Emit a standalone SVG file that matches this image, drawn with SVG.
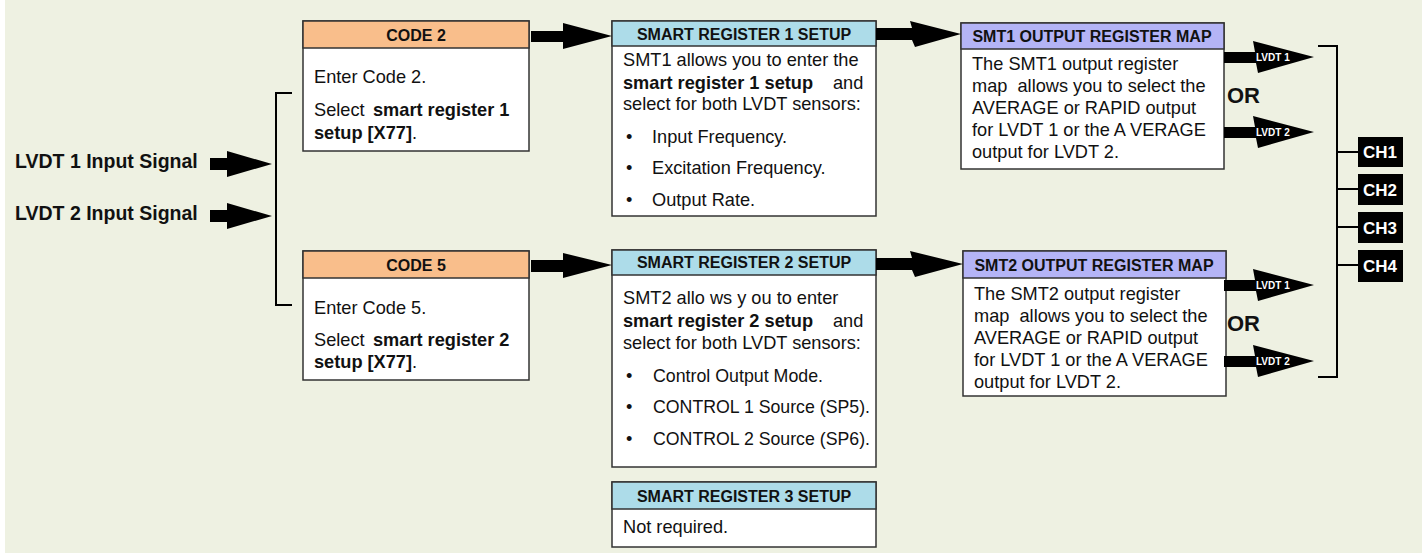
<svg xmlns="http://www.w3.org/2000/svg" width="1428" height="558" viewBox="0 0 1428 558">
<style>
  text { font-family: "Liberation Sans", Arial, sans-serif; fill: #111; }
  .hd { font-size: 16px; font-weight: bold; text-anchor: middle; }
  .bd { font-size: 18.2px; }
  .b { font-weight: bold; }
  .sig { font-size: 19.5px; font-weight: bold; }
  .or { font-size: 22px; font-weight: bold; }
  .ch { font-size: 17px; font-weight: bold; fill: #fff; text-anchor: middle; }
  .lv { font-size: 10px; font-weight: bold; fill: #fff; }
  .box { fill: #fff; stroke: #333; stroke-width: 1.5; }
  .orange { fill: #F9BE8B; stroke: #333; stroke-width: 1.5; }
  .blue { fill: #ADDCE9; stroke: #333; stroke-width: 1.5; }
  .purple { fill: #B4B4F6; stroke: #333; stroke-width: 1.5; }
  .arrow { fill: #000; }
  .line { fill: none; stroke: #000; stroke-width: 2; }
</style>
<rect x="5" y="0" width="1417" height="553" fill="#EEF1E2"/>

<g id="inputs">
  <text class="sig" x="15" y="168">LVDT 1 Input Signal</text>
  <text class="sig" x="15" y="220">LVDT 2 Input Signal</text>
</g>

<g id="code2">
  <rect class="box" x="303" y="21" width="226" height="130"/>
  <rect class="orange" x="303" y="21" width="226" height="27"/>
  <text class="hd" x="416" y="41">CODE 2</text>
  <text class="bd" x="314" y="83">Enter Code 2.</text>
  <text class="bd" x="314" y="116">Select <tspan class="b" x="373">smart register 1</tspan></text>
  <text class="bd" x="314" y="139"><tspan class="b">setup [X77]</tspan>.</text>
</g>

<g id="code5">
  <rect class="box" x="303" y="251" width="226" height="129"/>
  <rect class="orange" x="303" y="251" width="226" height="27"/>
  <text class="hd" x="416" y="271">CODE 5</text>
  <text class="bd" x="314" y="314">Enter Code 5.</text>
  <text class="bd" x="314" y="346">Select <tspan class="b" x="373">smart register 2</tspan></text>
  <text class="bd" x="314" y="368"><tspan class="b">setup [X77]</tspan>.</text>
</g>

<g id="sr1">
  <rect class="box" x="612" y="21" width="264" height="195"/>
  <rect class="blue" x="612" y="21" width="264" height="25"/>
  <text class="hd" x="744" y="40">SMART REGISTER 1 SETUP</text>
  <text class="bd" x="623" y="66">SMT1 allows you to enter the</text>
  <text class="bd" x="623" y="89"><tspan class="b">smart register 1 setup</tspan><tspan x="833">and</tspan></text>
  <text class="bd" x="623" y="110">select for both LVDT sensors:</text>
  <text class="bd" x="626" y="143">•<tspan x="652">Input Frequency.</tspan></text>
  <text class="bd" x="626" y="174">•<tspan x="652">Excitation Frequency.</tspan></text>
  <text class="bd" x="626" y="206">•<tspan x="652">Output Rate.</tspan></text>
</g>

<g id="sr2">
  <rect class="box" x="612" y="250" width="264" height="217"/>
  <rect class="blue" x="612" y="250" width="264" height="25"/>
  <text class="hd" x="744" y="268">SMART REGISTER 2 SETUP</text>
  <text class="bd" x="623" y="304">SMT2 allo ws y ou to enter</text>
  <text class="bd" x="623" y="327"><tspan class="b">smart register 2 setup</tspan><tspan x="833">and</tspan></text>
  <text class="bd" x="623" y="349">select for both LVDT sensors:</text>
  <text class="bd" x="626" y="382">•</text>
  <text class="bd" x="653" y="382" textLength="170" lengthAdjust="spacingAndGlyphs">Control Output Mode.</text>
  <text class="bd" x="626" y="413">•</text>
  <text class="bd" x="653" y="413" textLength="217" lengthAdjust="spacingAndGlyphs">CONTROL 1 Source (SP5).</text>
  <text class="bd" x="626" y="445">•</text>
  <text class="bd" x="653" y="445" textLength="217" lengthAdjust="spacingAndGlyphs">CONTROL 2 Source (SP6).</text>
</g>

<g id="sr3">
  <rect class="box" x="612" y="482" width="264" height="65"/>
  <rect class="blue" x="612" y="482" width="264" height="27"/>
  <text class="hd" x="744" y="502">SMART REGISTER 3 SETUP</text>
  <text class="bd" x="623" y="533">Not required.</text>
</g>

<g id="smt1">
  <rect class="box" x="961" y="23" width="263" height="146"/>
  <rect class="purple" x="961" y="23" width="263" height="26"/>
  <text class="hd" x="1092" y="42">SMT1 OUTPUT REGISTER MAP</text>
  <text class="bd" x="972" y="70">The SMT1 output register</text>
  <text class="bd" x="972" y="92" xml:space="preserve">map  allows you to select the</text>
  <text class="bd" x="972" y="114">AVERAGE or RAPID output</text>
  <text class="bd" x="972" y="136">for LVDT 1 or the A VERAGE</text>
  <text class="bd" x="972" y="158">output for LVDT 2.</text>
</g>

<g id="smt2">
  <rect class="box" x="963" y="251" width="263" height="145"/>
  <rect class="purple" x="963" y="251" width="263" height="27"/>
  <text class="hd" x="1094" y="271">SMT2 OUTPUT REGISTER MAP</text>
  <text class="bd" x="974" y="300">The SMT2 output register</text>
  <text class="bd" x="974" y="322" xml:space="preserve">map  allows you to select the</text>
  <text class="bd" x="974" y="344">AVERAGE or RAPID output</text>
  <text class="bd" x="974" y="366">for LVDT 1 or the A VERAGE</text>
  <text class="bd" x="974" y="388">output for LVDT 2.</text>
</g>

<g id="channels">
  <g id="ch1"><rect x="1358" y="137" width="45" height="30" fill="#000"/><text class="ch" x="1380" y="158">CH1</text></g>
  <g id="ch2"><rect x="1358" y="174" width="45" height="31" fill="#000"/><text class="ch" x="1380" y="196">CH2</text></g>
  <g id="ch3"><rect x="1358" y="212" width="45" height="31" fill="#000"/><text class="ch" x="1380" y="234">CH3</text></g>
  <g id="ch4"><rect x="1358" y="250" width="45" height="32" fill="#000"/><text class="ch" x="1380" y="272">CH4</text></g>
</g>

<g id="or-labels">
  <text class="or" x="1227" y="103">OR</text>
  <text class="or" x="1227" y="331">OR</text>
</g>

<g id="connectors">
  <polygon class="arrow" points="210,158 227,158 227,151 272,164 227,177 227,170 210,170"/>
  <polygon class="arrow" points="210,210 227,210 227,203 272,216 227,229 227,222 210,222"/>
  <path class="line" d="M292,93 H276 V305 H292"/>
  <polygon class="arrow" points="531,31 563,31 563,23 612,36 563,49 563,42 531,42"/>
  <polygon class="arrow" points="531,260 563,260 563,253 612,265 563,278 563,272 531,272"/>
  <polygon class="arrow" points="876,28 912,28 910,21 961,34 915,47 912,40 876,40"/>
  <polygon class="arrow" points="876,258 912,258 910,251 963,264 915,277 912,270 876,270"/>
  <polygon class="arrow" points="1224,52 1255,52 1253,41 1314,57 1258,73 1256,63 1224,63"/>
  <polygon class="arrow" points="1224,127 1255,127 1253,116 1314,132 1258,148 1256,138 1224,138"/>
  <polygon class="arrow" points="1224,280 1255,280 1253,269 1314,285 1258,301 1256,291 1224,291"/>
  <polygon class="arrow" points="1224,356 1255,356 1253,345 1314,361 1258,377 1256,367 1224,367"/>
  <text class="lv" x="1256" y="61">LVDT 1</text>
  <text class="lv" x="1256" y="136">LVDT 2</text>
  <text class="lv" x="1256" y="289">LVDT 1</text>
  <text class="lv" x="1256" y="365">LVDT 2</text>
  <path class="line" d="M1318,46 H1337 V377 H1318"/>
  <path class="line" d="M1337,152 H1358 M1337,189 H1358 M1337,227 H1358 M1337,265 H1358"/>
</g>
</svg>
